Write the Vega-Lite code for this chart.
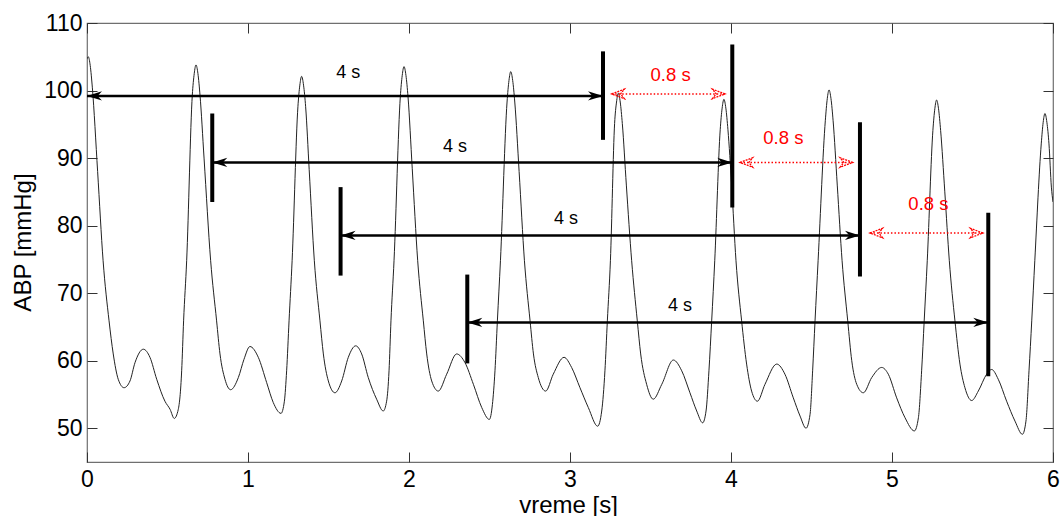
{
  "$schema": "https://vega.github.io/schema/vega-lite/v6.json",
  "width": 966,
  "height": 439,
  "autosize": {"type": "none"},
  "padding": {"left": 87, "top": 23, "right": 7, "bottom": 54},
  "background": "white",
  "config": {
    "view": {"stroke": "#6f6f6f", "strokeWidth": 1.2},
    "font": "Liberation Sans",
    "axis": {
      "domain": false,
      "grid": false,
      "tickSize": -10,
      "tickColor": "#333333",
      "tickWidth": 1,
      "labelFont": "Liberation Sans",
      "labelFontSize": 23,
      "labelColor": "#000000",
      "labelOverlap": false,
      "labelFlush": false,
      "titleFont": "Liberation Sans",
      "titleFontSize": 24,
      "titleFontWeight": "normal",
      "titleColor": "#000000"
    }
  },
  "datasets": {
    "abp": [
      {"t": 0, "v": 104.7}, {"t": 0.008, "v": 105.0}, {"t": 0.02, "v": 103.7}, {"t": 0.033, "v": 100.5},
      {"t": 0.066, "v": 88.0}, {"t": 0.10, "v": 74.8}, {"t": 0.137, "v": 65.9}, {"t": 0.163, "v": 61.0},
      {"t": 0.194, "v": 57.25}, {"t": 0.23, "v": 56.0}, {"t": 0.267, "v": 57.0}, {"t": 0.298, "v": 59.7},
      {"t": 0.35, "v": 61.7}, {"t": 0.391, "v": 60.5}, {"t": 0.433, "v": 57.25}, {"t": 0.484, "v": 54.0},
      {"t": 0.516, "v": 52.8}, {"t": 0.542, "v": 51.45}, {"t": 0.567, "v": 52.8}, {"t": 0.588, "v": 58.5},
      {"t": 0.60, "v": 65.9}, {"t": 0.619, "v": 74.8}, {"t": 0.654, "v": 99.3}, {"t": 0.666, "v": 102.5},
      {"t": 0.677, "v": 103.8}, {"t": 0.689, "v": 102.5}, {"t": 0.702, "v": 99.3}, {"t": 0.727, "v": 90.0},
      {"t": 0.768, "v": 74.8}, {"t": 0.805, "v": 65.9}, {"t": 0.826, "v": 61.0}, {"t": 0.857, "v": 57.25},
      {"t": 0.892, "v": 55.7}, {"t": 0.94, "v": 57.5}, {"t": 0.975, "v": 60.2}, {"t": 1.012, "v": 62.1},
      {"t": 1.064, "v": 60.5}, {"t": 1.116, "v": 56.75}, {"t": 1.157, "v": 53.8}, {"t": 1.205, "v": 52.2},
      {"t": 1.226, "v": 54.0}, {"t": 1.24, "v": 58.5}, {"t": 1.255, "v": 65.9}, {"t": 1.274, "v": 74.8},
      {"t": 1.31, "v": 97.6}, {"t": 1.322, "v": 100.8}, {"t": 1.333, "v": 102.1}, {"t": 1.345, "v": 100.8},
      {"t": 1.358, "v": 97.6}, {"t": 1.38, "v": 88.3}, {"t": 1.412, "v": 74.8}, {"t": 1.447, "v": 65.9},
      {"t": 1.468, "v": 61.0}, {"t": 1.499, "v": 57.0}, {"t": 1.54, "v": 55.25}, {"t": 1.582, "v": 57.0},
      {"t": 1.623, "v": 60.5}, {"t": 1.669, "v": 62.2}, {"t": 1.706, "v": 61.0}, {"t": 1.747, "v": 57.5},
      {"t": 1.799, "v": 54.3}, {"t": 1.84, "v": 52.55}, {"t": 1.861, "v": 54.0}, {"t": 1.876, "v": 58.5},
      {"t": 1.888, "v": 65.9}, {"t": 1.907, "v": 74.8}, {"t": 1.946, "v": 99.05}, {"t": 1.958, "v": 102.25},
      {"t": 1.969, "v": 103.55}, {"t": 1.981, "v": 102.25}, {"t": 1.994, "v": 99.05}, {"t": 2.02, "v": 88.5},
      {"t": 2.054, "v": 74.8}, {"t": 2.089, "v": 65.9}, {"t": 2.11, "v": 61.0}, {"t": 2.141, "v": 57.0},
      {"t": 2.182, "v": 55.5}, {"t": 2.234, "v": 58.0}, {"t": 2.296, "v": 61.0}, {"t": 2.348, "v": 59.7},
      {"t": 2.4, "v": 56.5}, {"t": 2.452, "v": 53.05}, {"t": 2.499, "v": 51.3}, {"t": 2.518, "v": 53.5},
      {"t": 2.534, "v": 58.5}, {"t": 2.549, "v": 65.9}, {"t": 2.568, "v": 74.8}, {"t": 2.609, "v": 98.3},
      {"t": 2.621, "v": 101.5}, {"t": 2.632, "v": 102.8}, {"t": 2.644, "v": 101.5}, {"t": 2.657, "v": 98.3},
      {"t": 2.684, "v": 88.0}, {"t": 2.717, "v": 74.8}, {"t": 2.752, "v": 65.9}, {"t": 2.773, "v": 61.0},
      {"t": 2.803, "v": 57.5}, {"t": 2.849, "v": 55.5}, {"t": 2.896, "v": 58.0}, {"t": 2.963, "v": 60.5},
      {"t": 3.01, "v": 59.0}, {"t": 3.062, "v": 56.0}, {"t": 3.114, "v": 53.05}, {"t": 3.172, "v": 50.3},
      {"t": 3.197, "v": 52.55}, {"t": 3.217, "v": 58.5}, {"t": 3.232, "v": 65.9}, {"t": 3.251, "v": 74.8},
      {"t": 3.277, "v": 95.1}, {"t": 3.289, "v": 98.3}, {"t": 3.30, "v": 99.6}, {"t": 3.312, "v": 98.3},
      {"t": 3.325, "v": 95.1}, {"t": 3.35, "v": 86.0}, {"t": 3.383, "v": 74.8}, {"t": 3.418, "v": 65.9},
      {"t": 3.439, "v": 61.0}, {"t": 3.476, "v": 56.5}, {"t": 3.517, "v": 54.3}, {"t": 3.57, "v": 56.5},
      {"t": 3.642, "v": 60.1}, {"t": 3.694, "v": 58.5}, {"t": 3.745, "v": 55.25}, {"t": 3.787, "v": 52.55},
      {"t": 3.824, "v": 50.8}, {"t": 3.845, "v": 52.55}, {"t": 3.863, "v": 58.5}, {"t": 3.88, "v": 65.9},
      {"t": 3.899, "v": 74.8}, {"t": 3.933, "v": 94.2}, {"t": 3.945, "v": 97.4}, {"t": 3.956, "v": 98.7},
      {"t": 3.968, "v": 97.4}, {"t": 3.981, "v": 94.2}, {"t": 4.004, "v": 86.0}, {"t": 4.031, "v": 74.8},
      {"t": 4.066, "v": 65.9}, {"t": 4.097, "v": 59.5}, {"t": 4.128, "v": 55.5}, {"t": 4.164, "v": 54.0},
      {"t": 4.211, "v": 56.5}, {"t": 4.284, "v": 59.5}, {"t": 4.335, "v": 58.0}, {"t": 4.387, "v": 54.5},
      {"t": 4.429, "v": 51.8}, {"t": 4.466, "v": 50.0}, {"t": 4.491, "v": 52.05}, {"t": 4.507, "v": 58.5},
      {"t": 4.522, "v": 65.9}, {"t": 4.541, "v": 74.8}, {"t": 4.586, "v": 95.6}, {"t": 4.598, "v": 98.8},
      {"t": 4.609, "v": 100.1}, {"t": 4.621, "v": 98.8}, {"t": 4.634, "v": 95.6}, {"t": 4.66, "v": 86.0},
      {"t": 4.69, "v": 74.8}, {"t": 4.725, "v": 65.9}, {"t": 4.75, "v": 60.0}, {"t": 4.781, "v": 56.5},
      {"t": 4.822, "v": 55.25}, {"t": 4.874, "v": 57.5}, {"t": 4.936, "v": 59.0}, {"t": 4.977, "v": 58.0},
      {"t": 5.029, "v": 54.5}, {"t": 5.081, "v": 51.55}, {"t": 5.139, "v": 49.6}, {"t": 5.164, "v": 51.55},
      {"t": 5.184, "v": 58.5}, {"t": 5.2, "v": 65.9}, {"t": 5.219, "v": 74.8}, {"t": 5.254, "v": 94.1},
      {"t": 5.266, "v": 97.3}, {"t": 5.277, "v": 98.6}, {"t": 5.289, "v": 97.3}, {"t": 5.302, "v": 94.1},
      {"t": 5.328, "v": 85.0}, {"t": 5.356, "v": 74.8}, {"t": 5.391, "v": 65.9}, {"t": 5.422, "v": 59.5},
      {"t": 5.453, "v": 56.0}, {"t": 5.495, "v": 54.1}, {"t": 5.536, "v": 55.5}, {"t": 5.588, "v": 58.0},
      {"t": 5.619, "v": 58.7}, {"t": 5.66, "v": 57.25}, {"t": 5.712, "v": 54.0}, {"t": 5.764, "v": 51.05},
      {"t": 5.81, "v": 49.1}, {"t": 5.832, "v": 51.05}, {"t": 5.851, "v": 58.5}, {"t": 5.868, "v": 65.9},
      {"t": 5.887, "v": 74.8}, {"t": 5.927, "v": 92.1}, {"t": 5.939, "v": 95.3}, {"t": 5.95, "v": 96.6},
      {"t": 5.962, "v": 95.3}, {"t": 5.975, "v": 92.1}, {"t": 5.99, "v": 85.7}, {"t": 6.0, "v": 83.5}
    ],
    "bars": [
      {"t": 0.778, "lo": 83.5, "hi": 96.6},
      {"t": 1.575, "lo": 72.6, "hi": 85.7},
      {"t": 2.362, "lo": 59.6, "hi": 72.75},
      {"t": 3.205, "lo": 92.7, "hi": 105.8},
      {"t": 4.008, "lo": 82.7, "hi": 106.8},
      {"t": 4.801, "lo": 72.45, "hi": 95.3},
      {"t": 5.598, "lo": 57.7, "hi": 81.9}
    ],
    "spans": [
      {"from": 0, "to": 3.205, "y": 99.2, "label": "4 s", "lx": 1.623, "ly": 102.6},
      {"from": 0.778, "to": 4.008, "y": 89.35, "label": "4 s", "lx": 2.286, "ly": 91.7},
      {"from": 1.575, "to": 4.801, "y": 78.55, "label": "4 s", "lx": 2.975, "ly": 81.0},
      {"from": 2.362, "to": 5.598, "y": 65.66, "label": "4 s", "lx": 3.683, "ly": 68.1}
    ],
    "gaps": [
      {"from": 3.259, "to": 3.963, "y": 99.5, "label": "0.8 s", "lx": 3.625, "ly": 102.3},
      {"from": 4.056, "to": 4.756, "y": 89.35, "label": "0.8 s", "lx": 4.325, "ly": 92.9},
      {"from": 4.863, "to": 5.565, "y": 78.9, "label": "0.8 s", "lx": 5.226, "ly": 83.15}
    ]
  },
  "layer": [
    {
      "data": {"name": "abp"},
      "mark": {"type": "line", "color": "#222222", "strokeWidth": 1, "interpolate": "monotone", "clip": true},
      "encoding": {
        "x": {
          "field": "t", "type": "quantitative",
          "scale": {"domain": [0, 6], "nice": false, "zero": false},
          "axis": {"orient": "bottom", "values": [0, 1, 2, 3, 4, 5, 6], "title": "vreme [s]",
                   "labelPadding": 16, "titleX": 481, "titleY": 50, "titleBaseline": "alphabetic"}
        },
        "y": {
          "field": "v", "type": "quantitative",
          "scale": {"domain": [45, 110], "nice": false, "zero": false},
          "axis": {"orient": "left", "values": [50, 60, 70, 80, 90, 100, 110], "title": "ABP [mmHg]",
                   "labelPadding": 15, "titleX": -57, "titleY": 219, "titleBaseline": "alphabetic"}
        }
      }
    },
    {
      "data": {"name": "bars"},
      "mark": {"type": "rule", "color": "#000000", "strokeWidth": 4, "strokeCap": "butt"},
      "encoding": {
        "x": {"field": "t", "type": "quantitative",
              "axis": {"orient": "top", "values": [0, 1, 2, 3, 4, 5, 6], "labels": false, "title": null}},
        "y": {"field": "lo", "type": "quantitative",
              "axis": {"orient": "right", "values": [50, 60, 70, 80, 90, 100, 110], "labels": false, "title": null}},
        "y2": {"field": "hi"}
      }
    },
    {
      "data": {"name": "spans"},
      "mark": {"type": "rule", "color": "#000000", "strokeWidth": 2.5},
      "encoding": {
        "x": {"field": "from", "type": "quantitative", "axis": null},
        "x2": {"field": "to"},
        "y": {"field": "y", "type": "quantitative", "axis": null}
      }
    },
    {
      "data": {"name": "spans"},
      "mark": {"type": "point", "shape": "M0,0 L2,-0.62 L1.4,0 L2,0.62 Z", "filled": true, "size": 225, "color": "#000000", "opacity": 1, "strokeWidth": 0},
      "encoding": {
        "x": {"field": "from", "type": "quantitative", "axis": null},
        "y": {"field": "y", "type": "quantitative", "axis": null}
      }
    },
    {
      "data": {"name": "spans"},
      "mark": {"type": "point", "shape": "M0,0 L-2,-0.62 L-1.4,0 L-2,0.62 Z", "filled": true, "size": 225, "color": "#000000", "opacity": 1, "strokeWidth": 0},
      "encoding": {
        "x": {"field": "to", "type": "quantitative", "axis": null},
        "y": {"field": "y", "type": "quantitative", "axis": null}
      }
    },
    {
      "data": {"name": "spans"},
      "mark": {"type": "text", "font": "Liberation Sans", "fontSize": 18, "color": "#000000", "baseline": "middle", "align": "center"},
      "encoding": {
        "x": {"field": "lx", "type": "quantitative", "axis": null},
        "y": {"field": "ly", "type": "quantitative", "axis": null},
        "text": {"field": "label"}
      }
    },
    {
      "data": {"name": "gaps"},
      "mark": {"type": "rule", "color": "#ff0000", "strokeWidth": 1.5, "strokeDash": [1.5, 2]},
      "encoding": {
        "x": {"field": "from", "type": "quantitative", "axis": null},
        "x2": {"field": "to"},
        "y": {"field": "y", "type": "quantitative", "axis": null}
      }
    },
    {
      "data": {"name": "gaps"},
      "mark": {"type": "point", "shape": "M0,0 L2,-0.75 L1.4,0 L2,0.75 Z", "filled": false, "size": 160, "color": "#ff0000", "opacity": 1, "strokeWidth": 1.3, "strokeDash": [2, 1]},
      "encoding": {
        "x": {"field": "from", "type": "quantitative", "axis": null},
        "y": {"field": "y", "type": "quantitative", "axis": null}
      }
    },
    {
      "data": {"name": "gaps"},
      "mark": {"type": "point", "shape": "M0,0 L-2,-0.75 L-1.4,0 L-2,0.75 Z", "filled": false, "size": 160, "color": "#ff0000", "opacity": 1, "strokeWidth": 1.3, "strokeDash": [2, 1]},
      "encoding": {
        "x": {"field": "to", "type": "quantitative", "axis": null},
        "y": {"field": "y", "type": "quantitative", "axis": null}
      }
    },
    {
      "data": {"name": "gaps"},
      "mark": {"type": "text", "font": "Liberation Sans", "fontSize": 18.5, "color": "#ff0000", "baseline": "middle", "align": "center"},
      "encoding": {
        "x": {"field": "lx", "type": "quantitative", "axis": null},
        "y": {"field": "ly", "type": "quantitative", "axis": null},
        "text": {"field": "label"}
      }
    }
  ]
}
